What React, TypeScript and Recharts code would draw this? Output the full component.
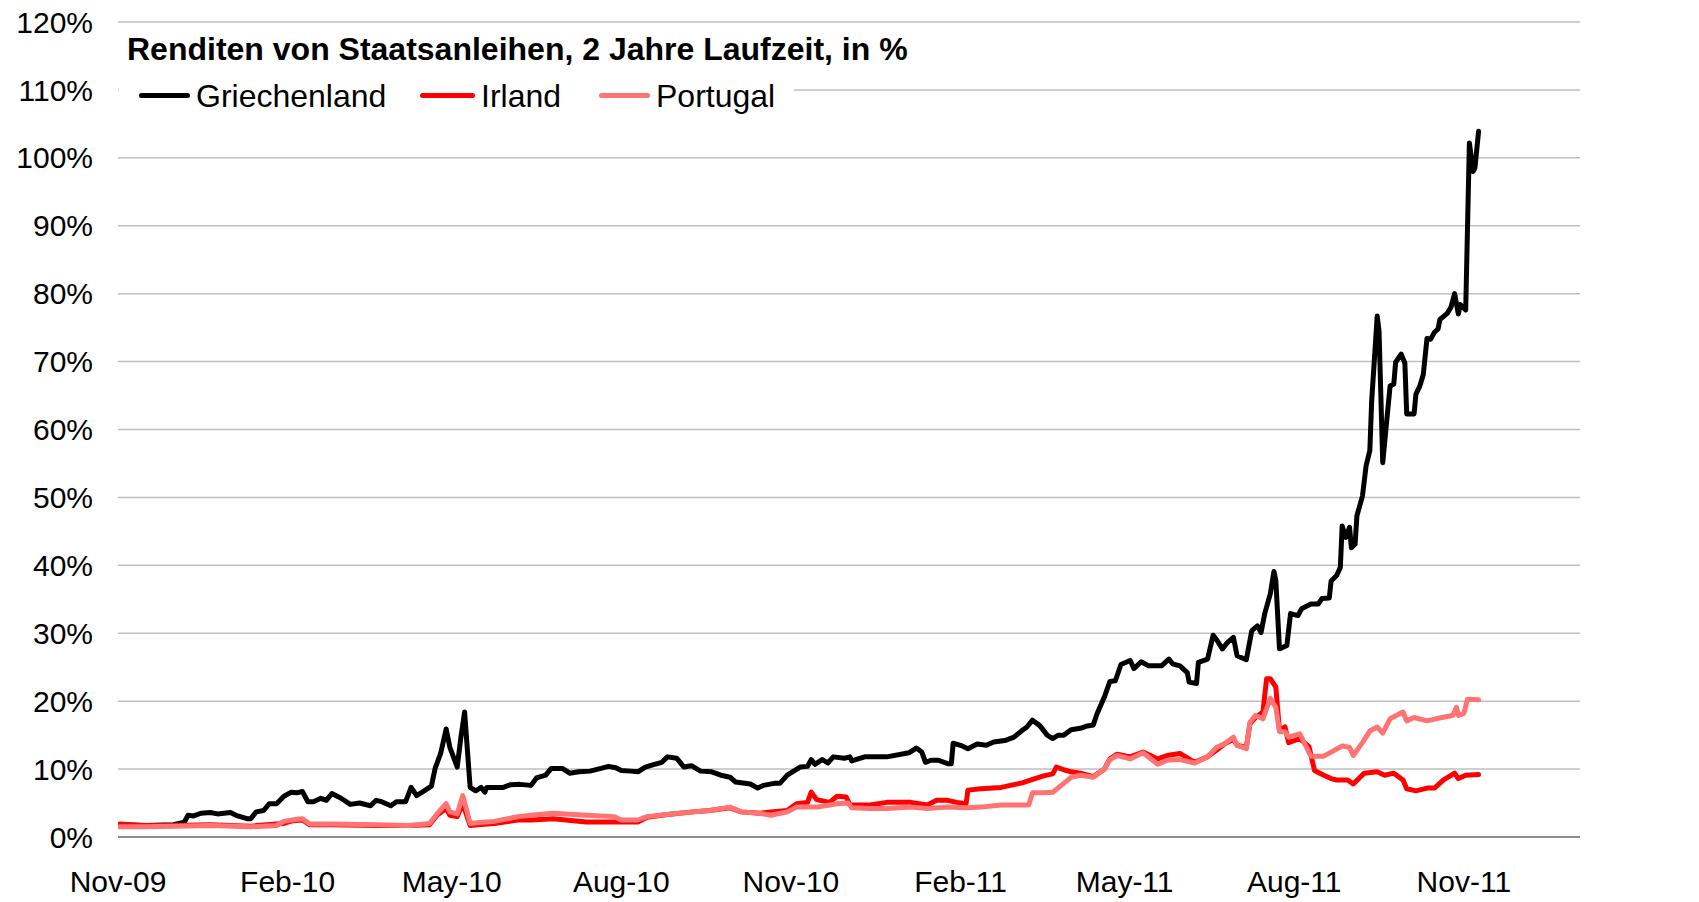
import React from 'react';
import { LineChart, Line, XAxis, YAxis, CartesianGrid } from 'recharts';

// Renditen 2-jähriger Staatsanleihen (in %)
const grDates = [
  '2009-11-02', '2009-11-16', '2009-12-01', '2009-12-07', '2009-12-09', '2009-12-12', '2009-12-16', '2009-12-21',
  '2009-12-25', '2010-01-01', '2010-01-04', '2010-01-10', '2010-01-12', '2010-01-15', '2010-01-19', '2010-01-22',
  '2010-01-26', '2010-01-30', '2010-02-03', '2010-02-06', '2010-02-09', '2010-02-12', '2010-02-15', '2010-02-19',
  '2010-02-22', '2010-02-25', '2010-03-02', '2010-03-07', '2010-03-12', '2010-03-18', '2010-03-21', '2010-03-24',
  '2010-03-29', '2010-04-01', '2010-04-06', '2010-04-09', '2010-04-12', '2010-04-15', '2010-04-20', '2010-04-22',
  '2010-04-25', '2010-04-28', '2010-04-30', '2010-05-04', '2010-05-06', '2010-05-08', '2010-05-11', '2010-05-14',
  '2010-05-17', '2010-05-19', '2010-05-20', '2010-05-29', '2010-06-02', '2010-06-07', '2010-06-13', '2010-06-16',
  '2010-06-21', '2010-06-24', '2010-06-30', '2010-07-04', '2010-07-09', '2010-07-15', '2010-07-21', '2010-07-25',
  '2010-07-29', '2010-08-01', '2010-08-06', '2010-08-10', '2010-08-14', '2010-08-19', '2010-08-23', '2010-08-26',
  '2010-08-31', '2010-09-04', '2010-09-08', '2010-09-13', '2010-09-19', '2010-09-24', '2010-09-29', '2010-10-02',
  '2010-10-10', '2010-10-14', '2010-10-17', '2010-10-23', '2010-10-26', '2010-10-30', '2010-11-06', '2010-11-10',
  '2010-11-12', '2010-11-14', '2010-11-18', '2010-11-21', '2010-11-24', '2010-11-30', '2010-12-03', '2010-12-04',
  '2010-12-11', '2010-12-23', '2011-01-04', '2011-01-08', '2011-01-11', '2011-01-13', '2011-01-16', '2011-01-20',
  '2011-01-25', '2011-01-27', '2011-01-28', '2011-02-01', '2011-02-05', '2011-02-10', '2011-02-15', '2011-02-19',
  '2011-02-25', '2011-03-02', '2011-03-06', '2011-03-09', '2011-03-12', '2011-03-16', '2011-03-20', '2011-03-23',
  '2011-03-26', '2011-03-29', '2011-04-02', '2011-04-07', '2011-04-10', '2011-04-14', '2011-04-16', '2011-04-20',
  '2011-04-23', '2011-04-26', '2011-04-29', '2011-05-04', '2011-05-06', '2011-05-10', '2011-05-14', '2011-05-21',
  '2011-05-25', '2011-05-27', '2011-05-31', '2011-06-04', '2011-06-05', '2011-06-09', '2011-06-10', '2011-06-15',
  '2011-06-18', '2011-06-20', '2011-06-23', '2011-06-26', '2011-06-29', '2011-07-01', '2011-07-06', '2011-07-09',
  '2011-07-12', '2011-07-14', '2011-07-16', '2011-07-19', '2011-07-21', '2011-07-22', '2011-07-24', '2011-07-28',
  '2011-07-30', '2011-08-03', '2011-08-05', '2011-08-10', '2011-08-14', '2011-08-16', '2011-08-20', '2011-08-21',
  '2011-08-24', '2011-08-26', '2011-08-27', '2011-08-29', '2011-08-31', '2011-09-01', '2011-09-03', '2011-09-04',
  '2011-09-07', '2011-09-09', '2011-09-11', '2011-09-12', '2011-09-15', '2011-09-16', '2011-09-18', '2011-09-20',
  '2011-09-22', '2011-09-24', '2011-09-25', '2011-09-28', '2011-09-30', '2011-10-01', '2011-10-05', '2011-10-06',
  '2011-10-08', '2011-10-10', '2011-10-12', '2011-10-14', '2011-10-16', '2011-10-18', '2011-10-19', '2011-10-23',
  '2011-10-25', '2011-10-27', '2011-10-29', '2011-10-30', '2011-11-02', '2011-11-04', '2011-11-06', '2011-11-07',
  '2011-11-09',
];
const grValues = [
  1.8, 1.7, 1.8, 2.2, 3.2, 3.1, 3.5, 3.6,
  3.4, 3.6, 3.2, 2.7, 2.7, 3.7, 3.9, 4.9,
  4.9, 6.0, 6.6, 6.5, 6.7, 5.2, 5.2, 5.7,
  5.4, 6.4, 5.7, 4.8, 5.0, 4.6, 5.4, 5.2,
  4.6, 5.2, 5.2, 7.3, 6.1, 6.6, 7.5, 10.1,
  12.3, 15.9, 13.2, 10.3, 14.7, 18.4, 7.3, 6.8,
  7.3, 6.6, 7.3, 7.3, 7.7, 7.75, 7.6, 8.7,
  9.1, 10.1, 10.1, 9.4, 9.6, 9.7, 10.1, 10.4,
  10.2, 9.8, 9.7, 9.6, 10.3, 10.7, 11.0, 11.8,
  11.6, 10.3, 10.5, 9.7, 9.6, 9.1, 8.8, 8.1,
  7.8, 7.2, 7.6, 7.9, 7.9, 9.1, 10.3, 10.4,
  11.4, 10.7, 11.4, 10.9, 11.8, 11.6, 11.8, 11.2,
  11.8, 11.8, 12.4, 13.1, 12.5, 11.0, 11.3, 11.3,
  10.8, 10.8, 13.8, 13.5, 13.0, 13.7, 13.5, 14.0,
  14.2, 14.7, 15.6, 16.2, 17.2, 16.4, 15.0, 14.5,
  15.0, 15.0, 15.8, 16.0, 16.3, 16.5, 18.1, 20.6,
  22.9, 23.0, 25.4, 26.0, 24.8, 25.8, 25.2, 25.2,
  26.2, 25.5, 25.2, 24.2, 22.8, 22.6, 25.7, 26.2,
  29.7, 29.0, 27.7, 28.7, 29.4, 26.7, 26.1, 30.4,
  31.1, 30.1, 32.9, 35.8, 39.1, 37.8, 27.7, 28.2,
  32.9, 32.6, 33.6, 34.3, 34.3, 35.1, 35.2, 37.7,
  38.5, 39.7, 45.8, 44.1, 45.6, 42.6, 43.1, 47.3,
  50.2, 54.7, 56.9, 64.2, 76.7, 74.5, 55.1, 60.8,
  66.4, 66.7, 69.9, 71.1, 69.8, 62.3, 62.3, 65.2,
  66.3, 68.1, 73.4, 73.3, 74.3, 74.8, 76.2, 77.1,
  78.0, 80.0, 77.0, 78.4, 77.6, 102.2, 98.0, 98.5,
  103.9,
];

const ieDates = [
  '2009-11-02', '2009-11-14', '2009-12-02', '2009-12-21', '2010-01-12', '2010-01-26', '2010-01-30', '2010-02-04',
  '2010-02-09', '2010-02-13', '2010-02-25', '2010-03-21', '2010-04-08', '2010-04-19', '2010-04-23', '2010-04-28',
  '2010-04-30', '2010-05-04', '2010-05-07', '2010-05-11', '2010-05-15', '2010-05-24', '2010-06-06', '2010-06-13',
  '2010-06-25', '2010-07-13', '2010-07-28', '2010-08-10', '2010-08-15', '2010-08-26', '2010-09-09', '2010-09-18',
  '2010-09-29', '2010-10-05', '2010-10-15', '2010-10-21', '2010-10-30', '2010-11-04', '2010-11-10', '2010-11-12',
  '2010-11-15', '2010-11-22', '2010-11-26', '2010-12-01', '2010-12-03', '2010-12-14', '2010-12-23', '2011-01-05',
  '2011-01-14', '2011-01-19', '2011-01-25', '2011-01-30', '2011-02-04', '2011-02-05', '2011-02-12', '2011-02-23',
  '2011-03-07', '2011-03-10', '2011-03-18', '2011-03-23', '2011-03-25', '2011-03-29', '2011-04-02', '2011-04-07',
  '2011-04-14', '2011-04-20', '2011-04-23', '2011-04-27', '2011-05-04', '2011-05-11', '2011-05-19', '2011-05-24',
  '2011-05-31', '2011-06-08', '2011-06-15', '2011-06-20', '2011-06-24', '2011-06-29', '2011-07-01', '2011-07-06',
  '2011-07-08', '2011-07-11', '2011-07-15', '2011-07-17', '2011-07-19', '2011-07-22', '2011-07-24', '2011-07-27',
  '2011-07-29', '2011-08-04', '2011-08-09', '2011-08-12', '2011-08-17', '2011-08-21', '2011-08-24', '2011-08-30',
  '2011-09-02', '2011-09-08', '2011-09-15', '2011-09-19', '2011-09-24', '2011-09-29', '2011-10-01', '2011-10-06',
  '2011-10-12', '2011-10-16', '2011-10-21', '2011-10-27', '2011-10-29', '2011-11-02', '2011-11-09',
];
const ieValues = [
  1.9, 1.7, 1.7, 1.8, 1.6, 1.9, 2.0, 2.4,
  2.5, 1.8, 1.8, 1.7, 1.7, 1.8, 3.2, 4.2,
  3.2, 3.0, 4.9, 1.7, 1.8, 2.0, 2.5, 2.5,
  2.7, 2.2, 2.2, 2.2, 2.9, 3.3, 3.7, 3.9,
  4.3, 3.7, 3.5, 3.7, 3.9, 4.9, 5.1, 6.6,
  5.5, 5.1, 6.0, 5.9, 4.7, 4.7, 5.1, 5.1,
  4.7, 5.4, 5.4, 5.1, 4.9, 6.9, 7.1, 7.3,
  8.0, 8.3, 9.0, 9.3, 10.3, 9.9, 9.6, 9.4,
  8.9, 10.0, 11.5, 12.2, 11.8, 12.5, 11.5, 12.0,
  12.3, 11.0, 11.8, 12.8, 13.7, 14.4, 13.5, 13.2,
  16.7, 17.6, 18.4, 23.3, 23.3, 22.1, 15.7, 16.2,
  13.9, 14.5, 13.3, 9.8, 9.1, 8.6, 8.4, 8.4,
  7.8, 9.4, 9.6, 9.1, 9.4, 8.4, 7.1, 6.8,
  7.2, 7.2, 8.4, 9.4, 8.6, 9.1, 9.2,
];

const ptDates = [
  '2009-11-02', '2009-11-14', '2009-12-02', '2009-12-21', '2010-01-12', '2010-01-26', '2010-01-30', '2010-02-06',
  '2010-02-09', '2010-02-13', '2010-02-25', '2010-03-21', '2010-04-08', '2010-04-19', '2010-04-23', '2010-04-28',
  '2010-04-30', '2010-05-04', '2010-05-07', '2010-05-11', '2010-05-15', '2010-05-24', '2010-06-06', '2010-06-13',
  '2010-06-25', '2010-07-13', '2010-07-28', '2010-08-01', '2010-08-10', '2010-08-15', '2010-08-26', '2010-09-09',
  '2010-09-18', '2010-09-29', '2010-10-05', '2010-10-15', '2010-10-21', '2010-10-30', '2010-11-04', '2010-11-15',
  '2010-11-22', '2010-11-26', '2010-12-02', '2010-12-04', '2010-12-14', '2010-12-23', '2011-01-05', '2011-01-14',
  '2011-01-25', '2011-02-04', '2011-02-12', '2011-02-23', '2011-03-10', '2011-03-12', '2011-03-18', '2011-03-23',
  '2011-03-29', '2011-04-02', '2011-04-07', '2011-04-14', '2011-04-20', '2011-04-23', '2011-04-27', '2011-05-04',
  '2011-05-11', '2011-05-19', '2011-05-24', '2011-05-31', '2011-06-08', '2011-06-15', '2011-06-20', '2011-06-24',
  '2011-06-29', '2011-07-01', '2011-07-06', '2011-07-08', '2011-07-11', '2011-07-15', '2011-07-19', '2011-07-22',
  '2011-07-24', '2011-07-27', '2011-07-29', '2011-08-04', '2011-08-10', '2011-08-17', '2011-08-21', '2011-08-27',
  '2011-08-31', '2011-09-02', '2011-09-07', '2011-09-11', '2011-09-15', '2011-09-18', '2011-09-22', '2011-09-29',
  '2011-10-01', '2011-10-05', '2011-10-12', '2011-10-20', '2011-10-26', '2011-10-28', '2011-10-29', '2011-11-01',
  '2011-11-03', '2011-11-09',
];
const ptValues = [
  1.5, 1.5, 1.6, 1.7, 1.5, 1.7, 2.3, 2.6,
  2.7, 1.9, 1.9, 1.8, 1.7, 2.0, 3.4, 4.9,
  3.7, 3.4, 6.1, 2.0, 2.1, 2.3, 3.0, 3.2,
  3.5, 3.2, 3.0, 2.5, 2.5, 3.0, 3.3, 3.7,
  3.9, 4.4, 3.7, 3.5, 3.2, 3.7, 4.4, 4.4,
  4.7, 4.9, 5.0, 4.3, 4.2, 4.2, 4.4, 4.2,
  4.4, 4.3, 4.4, 4.7, 4.7, 6.5, 6.5, 6.6,
  7.9, 8.8, 9.1, 8.8, 10.0, 11.4, 12.0, 11.5,
  12.4, 10.7, 11.3, 11.4, 10.9, 11.8, 13.2, 13.7,
  14.7, 13.5, 13.0, 16.9, 17.9, 17.4, 20.4, 19.1,
  15.5, 15.5, 14.7, 15.2, 11.9, 11.9, 12.5, 13.4,
  13.2, 12.0, 13.9, 15.6, 16.2, 15.3, 17.4, 18.4,
  17.1, 17.6, 17.1, 17.6, 17.9, 19.1, 17.9, 18.2,
  20.3, 20.2,
];

const axisStart = '2009-11-01';
const axisEnd = '2012-01-03';
const xTickDates = [
  '2009-11-01', '2010-02-01', '2010-05-01', '2010-08-01', '2010-11-01',
  '2011-02-01', '2011-05-01', '2011-08-01', '2011-11-01',
];
const yTicks = [0, 10, 20, 30, 40, 50, 60, 70, 80, 90, 100, 110, 120];
const monthNames = ['Jan', 'Feb', 'Mar', 'Apr', 'May', 'Jun', 'Jul', 'Aug', 'Sep', 'Oct', 'Nov', 'Dec'];

const seriesNames = ['Griechenland', 'Irland', 'Portugal'];
const seriesColors = ['#000000', '#ff0000', '#ff7373'];

const toPoints = (dates: string[], values: number[]) =>
  dates.map((d, i) => ({ t: Date.parse(d), v: values[i] }));

const formatMonth = (t: number) => {
  const d = new Date(t);
  const yy = String(d.getUTCFullYear() % 100).padStart(2, '0');
  return `${monthNames[d.getUTCMonth()]}-${yy}`;
};

const FONT = '"Liberation Sans", Arial, sans-serif';

export default function App() {
  const series = [
    toPoints(grDates, grValues),
    toPoints(ieDates, ieValues),
    toPoints(ptDates, ptValues),
  ];
  const tickStyle = { fill: '#000', fontSize: 30, fontFamily: FONT };
  const legendX = [139, 420, 599];
  const legendW = [51, 55, 51];

  return (
    <div style={{ position: 'absolute', left: 0, top: 0, width: 1699, height: 902, background: '#fff', fontFamily: FONT }}>
      <LineChart width={1699} height={902} margin={{ top: 22, right: 0, bottom: 0, left: 0 }}>
        <CartesianGrid vertical={false} stroke="#bfbfbf" strokeWidth={1.5} yAxisId="left" />
        <XAxis
          dataKey="t"
          type="number"
          domain={[Date.parse(axisStart), Date.parse(axisEnd)]}
          ticks={xTickDates.map((d) => Date.parse(d))}
          tickFormatter={formatMonth}
          allowDataOverflow
          height={65}
          tickSize={0}
          tickMargin={34}
          axisLine={{ stroke: '#8c8c8c', strokeWidth: 2 }}
          tick={tickStyle}
        />
        <YAxis
          yAxisId="left"
          orientation="left"
          domain={[0, 120]}
          ticks={yTicks}
          tickFormatter={(v: number) => `${v}%`}
          width={118}
          tickSize={0}
          tickMargin={25}
          axisLine={false}
          tick={tickStyle}
        />
        <YAxis
          yAxisId="right"
          orientation="right"
          domain={[0, 120]}
          ticks={yTicks}
          tickFormatter={(v: number) => `${v}%`}
          width={119}
          tickSize={0}
          tickMargin={20}
          axisLine={false}
          tick={tickStyle}
        />
        {series.map((pts, i) => (
          <Line
            key={seriesNames[i]}
            yAxisId="left"
            data={pts}
            dataKey="v"
            name={seriesNames[i]}
            type="linear"
            stroke={seriesColors[i]}
            strokeWidth={5}
            strokeLinejoin="round"
            strokeLinecap="round"
            dot={false}
            isAnimationActive={false}
          />
        ))}
      </LineChart>

      <div
        style={{
          position: 'absolute', left: 127, top: 33, fontSize: 32, lineHeight: 1,
          fontWeight: 'bold', color: '#000', whiteSpace: 'nowrap',
        }}
      >
        Renditen von Staatsanleihen, 2 Jahre Laufzeit, in %
      </div>

      <div style={{ position: 'absolute', left: 119, top: 76, width: 675, height: 40, background: '#fff' }}>
        {seriesNames.map((name, i) => (
          <React.Fragment key={name}>
            <div
              style={{
                position: 'absolute', left: legendX[i] - 119, top: 17, width: legendW[i], height: 5,
                borderRadius: 3, background: seriesColors[i],
              }}
            />
            <div
              style={{
                position: 'absolute', left: legendX[i] - 119 + legendW[i] + 6, top: 4, fontSize: 32,
                lineHeight: 1, color: '#000', whiteSpace: 'nowrap',
              }}
            >
              {name}
            </div>
          </React.Fragment>
        ))}
      </div>
    </div>
  );
}
